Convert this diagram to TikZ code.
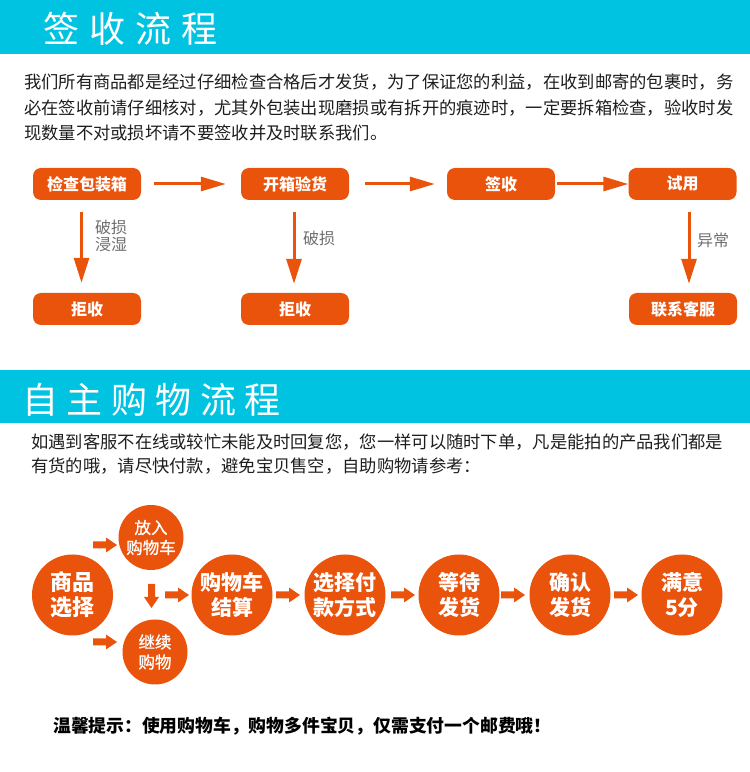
\documentclass[tikz,border=0pt]{standalone}
\usepackage{fontspec}
\setmainfont{Noto Sans CJK SC}
\newfontfamily\cjkmed[FakeBold=1]{Noto Sans CJK SC}
\usetikzlibrary{arrows.meta}
\definecolor{og}{RGB}{233,83,12}
\definecolor{cy}{RGB}{0,195,225}
\definecolor{lab}{RGB}{110,110,110}
\definecolor{txt}{RGB}{30,30,30}
\newcommand\blk[3]{\fill[og,shift={(#1,#2)},rotate=#3] (0,-3.5) -- (13,-3.5) -- (13,-7.5) -- (24,0) -- (13,7.5) -- (13,3.5) -- (0,3.5) -- cycle;}
\begin{document}
\begin{tikzpicture}[x=1pt,y=1pt,
  box/.style={fill=og, rounded corners=8pt, minimum width=108pt, minimum height=32pt, inner sep=0pt, text=white, font=\fontsize{16}{16}\selectfont\bfseries},
  harr/.style={draw=og, line width=3pt, -{Triangle[length=25pt,width=14pt]}},
  varr/.style={draw=og, line width=3pt, -{Triangle[length=25pt,width=15pt]}},
  lbl/.style={text=lab, font=\fontsize{16}{16.5}\selectfont, align=left, inner sep=0pt, anchor=west},
  para/.style={text=txt, font=\fontsize{17.3}{17.3}\selectfont, inner sep=0pt, anchor=west},
  ttl/.style={text=white, font=\fontsize{36}{36}\selectfont, inner sep=0pt, anchor=west},
  bigc/.style={circle, fill=og, minimum size=81pt, inner sep=0pt, text=white, align=center, font=\fontsize{21}{25}\selectfont\bfseries},
  smallc/.style={circle, fill=og, minimum size=65pt, inner sep=0pt, text=white, align=center, font=\fontsize{16.5}{20}\selectfont\cjkmed},
]
\useasboundingbox (0,0) rectangle (750,772);
\fill[white] (0,0) rectangle (750,772);
% ---------- section 1
\fill[cy] (0,718) rectangle (750,772);
\node[ttl] (t1) at (43,743.5) {签\hspace{10pt}收\hspace{10pt}流\hspace{10pt}程};
\node[para] (p1) at (24,690) {我们所有商品都是经过仔细检查合格后才发货，为了保证您的利益，在收到邮寄的包裹时，务};
\node[para] (p2) at (24,664) {必在签收前请仔细核对，尤其外包装出现磨损或有拆开的痕迹时，一定要拆箱检查，验收时发};
\node[para] (p3) at (24,639) {现数量不对或损坏请不要签收并及时联系我们。};

\node[box] (b1) at (87,588) {检查包装箱};
\node[box] (b2) at (295,588) {开箱验货};
\node[box] (b3) at (501,588) {签收};
\node[box] (b4) at (682.5,588) {试用};
\node[box] (r1) at (87,463) {拒收};
\node[box] (r2) at (295,463) {拒收};
\node[box] (r4) at (683,463) {联系客服};

\draw[harr, shorten <=13pt, shorten >=15pt] (b1.east) -- (b2.west);
\draw[harr, shorten <=16pt, shorten >=12pt] (b2.east) -- (b3.west);
\draw[harr, shorten <=2pt] (b3.east) -- (b4.west);

\draw[varr, shorten <=12pt, shorten >=10pt] ([xshift=-5.5pt]b1.south) -- ([xshift=-5.5pt]r1.north);
\draw[varr, shorten <=12pt, shorten >=9pt] ([xshift=-1pt]b2.south) -- ([xshift=-1pt]r2.north);
\draw[varr, shorten <=12pt, shorten >=9pt] ([xshift=6.5pt]b4.south) -- ([xshift=6pt]r4.north);

\node[lbl] (l1) at (95,536) {破损\\浸湿};
\node[lbl] (l2) at (303,534) {破损};
\node[lbl] (l3) at (697,532) {异常};

% ---------- section 2
\fill[cy] (0,349) rectangle (750,402);
\node[ttl] (t2) at (22,372) {自\hspace{8.5pt}主\hspace{8.5pt}购\hspace{8.5pt}物\hspace{8.5pt}流\hspace{8.5pt}程};
\node[para] (q1) at (31,330) {如遇到客服不在线或较忙未能及时回复您，您一样可以随时下单，凡是能拍的产品我们都是};
\node[para] (q2) at (31,306) {有货的哦，请尽快付款，避免宝贝售空，自助购物请参考：};

\node[bigc, font=\fontsize{22}{25}\selectfont\bfseries] (c1) at (72.5,177) {商品\\选择};
\node[smallc] (c2) at (151,234.5) {放入\\购物车};
\node[smallc] (c3) at (155,120) {继续\\购物};
\node[bigc] (c4) at (232,177) {购物车\\结算};
\node[bigc] (c5) at (345,177) {选择付\\款方式};
\node[bigc] (c6) at (459,177) {等待\\发货};
\node[bigc] (c7) at (570,177) {确认\\发货};
\node[bigc] (c8) at (682,177) {满意\\5分};

\blk{93}{227}{0}
\blk{93}{130}{0}
\blk{151.5}{188}{-90}
\blk{165}{177}{0}
\blk{276}{177}{0}
\blk{391}{177}{0}
\blk{501}{177}{0}
\blk{614}{177}{0}

\node[para, font=\fontsize{17.8}{17.8}\selectfont\bfseries, text=black] (n1) at (53,46) {温馨提示：使用购物车，购物多件宝贝，仅需支付一个邮费哦！};
\end{tikzpicture}
\end{document}
